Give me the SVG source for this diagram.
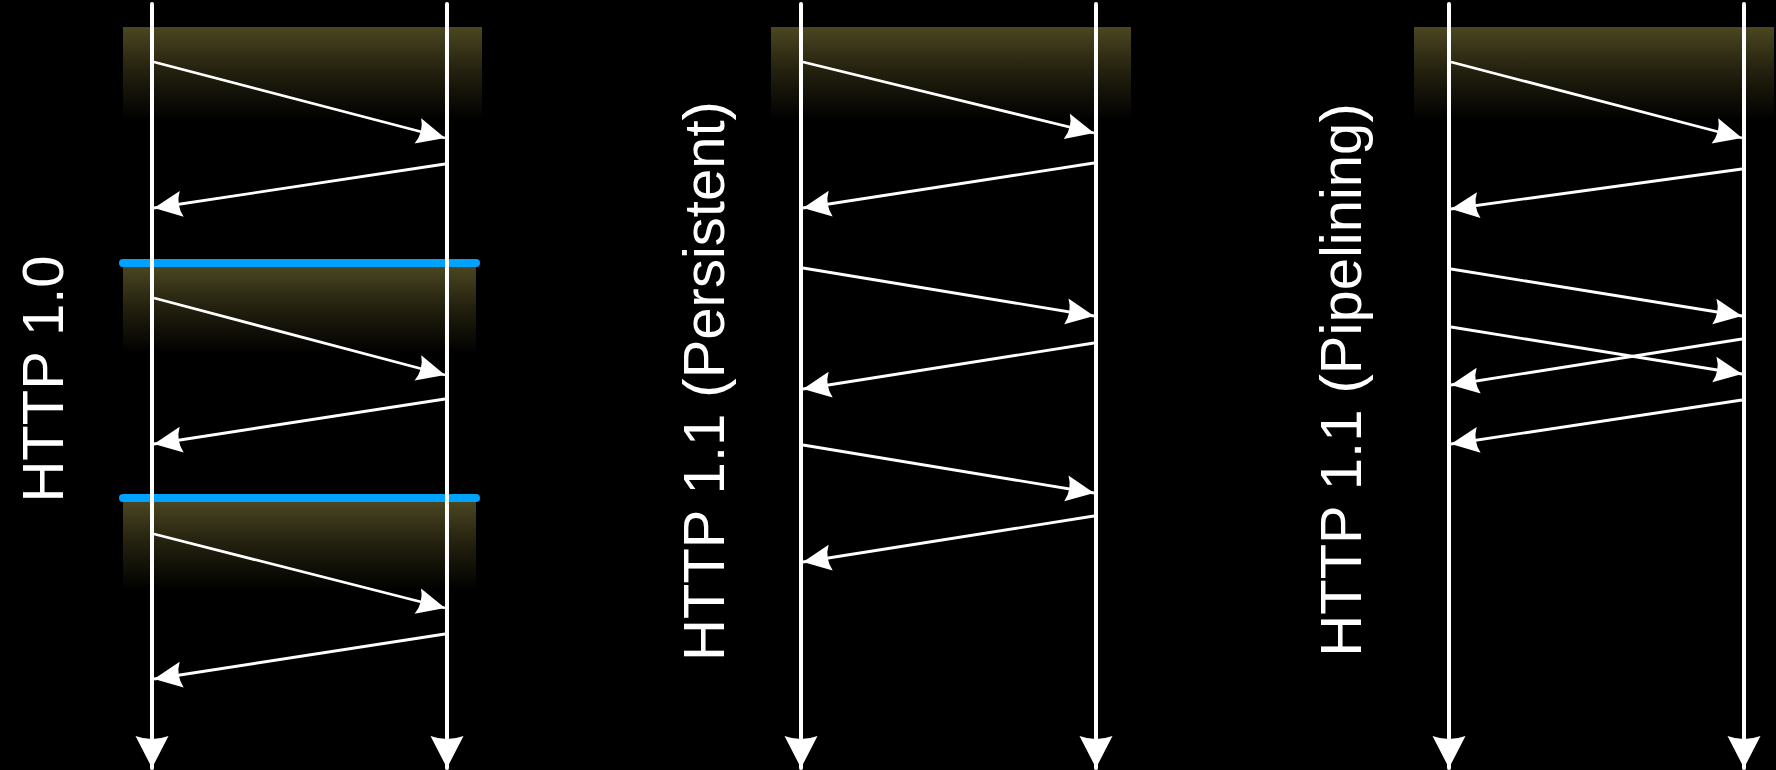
<svg xmlns="http://www.w3.org/2000/svg" width="1776" height="770" viewBox="0 0 1776 770">
  <defs>
    <linearGradient id="band" x1="0" y1="0" x2="0" y2="1">
      <stop offset="0" stop-color="#4b4722"/>
      <stop offset="0.45" stop-color="#25220f"/>
      <stop offset="1" stop-color="#000000"/>
    </linearGradient>
    <marker id="msg" markerUnits="userSpaceOnUse" viewBox="-30 -14 32 28" refX="0" refY="0" markerWidth="32" markerHeight="28" orient="auto" overflow="visible">
      <path d="M0,0 L-28,-13 Q-22,0 -28,13 Z" fill="#fff"/>
    </marker>
    <marker id="life" markerUnits="userSpaceOnUse" viewBox="-34 -17 36 34" refX="0" refY="0" markerWidth="36" markerHeight="34" orient="auto" overflow="visible">
      <path d="M0,0 L-32,-16.5 Q-26,0 -32,16.5 Z" fill="#fff"/>
    </marker>
  </defs>
  <style>
    .bg { fill: #000; }
    .band { fill: url(#band); }
    .sep { stroke: #00a2ff; stroke-width: 8; stroke-linecap: round; fill: none; }
    .life { stroke: #fff; stroke-width: 4; stroke-linecap: round; fill: none; marker-end: url(#life); }
    .msg { stroke: #fff; stroke-width: 2.8; fill: none; marker-end: url(#msg); }
    .label { fill: #fff; font-family: "Liberation Sans", Arial, sans-serif; font-size: 58px; text-anchor: middle; }
  </style>
  <rect class="bg" x="0" y="0" width="1776" height="770"/>

  <g id="panel-http10">
    <rect class="band" x="123" y="27" width="359" height="93"/>
    <rect class="band" x="123" y="266" width="353" height="87"/>
    <rect class="band" x="123" y="501" width="353" height="89"/>
    <line class="sep" x1="123" y1="263" x2="476" y2="263"/>
    <line class="sep" x1="123" y1="498" x2="476" y2="498"/>
    <line class="life" x1="152" y1="4" x2="152" y2="768"/>
    <line class="life" x1="447" y1="4" x2="447" y2="768"/>
    <text class="label" transform="translate(63,379) rotate(-90)">HTTP 1.0</text>
  </g>

  <g id="panel-http11-persistent">
    <rect class="band" x="771" y="27" width="360" height="93"/>
    <line class="life" x1="801" y1="4" x2="801" y2="768"/>
    <line class="life" x1="1096" y1="4" x2="1096" y2="768"/>
    <text class="label" transform="translate(724,381) rotate(-90)">HTTP 1.1 (Persistent)</text>
  </g>

  <g id="panel-http11-pipelining">
    <rect class="band" x="1414" y="27" width="360" height="93"/>
    <line class="life" x1="1449" y1="4" x2="1449" y2="768"/>
    <line class="life" x1="1744" y1="4" x2="1744" y2="768"/>
    <text class="label" transform="translate(1361,380) rotate(-90)">HTTP 1.1 (Pipelining)</text>
  </g>

  <g id="connectors">
    <line class="msg" x1="154" y1="62" x2="445" y2="138"/>
    <line class="msg" x1="445" y1="164" x2="154" y2="208"/>
    <line class="msg" x1="154" y1="298" x2="445" y2="375"/>
    <line class="msg" x1="445" y1="399" x2="154" y2="444"/>
    <line class="msg" x1="154" y1="534" x2="445" y2="608"/>
    <line class="msg" x1="445" y1="634" x2="154" y2="679"/>

    <line class="msg" x1="803" y1="62" x2="1094" y2="133"/>
    <line class="msg" x1="1094" y1="163" x2="803" y2="208"/>
    <line class="msg" x1="803" y1="268" x2="1094" y2="316"/>
    <line class="msg" x1="1094" y1="343" x2="803" y2="389"/>
    <line class="msg" x1="803" y1="445" x2="1094" y2="493"/>
    <line class="msg" x1="1094" y1="516" x2="803" y2="562"/>

    <line class="msg" x1="1451" y1="62" x2="1742" y2="138"/>
    <line class="msg" x1="1742" y1="169" x2="1451" y2="209"/>
    <line class="msg" x1="1451" y1="269" x2="1742" y2="316"/>
    <line class="msg" x1="1451" y1="327" x2="1742" y2="374"/>
    <line class="msg" x1="1742" y1="339" x2="1451" y2="385"/>
    <line class="msg" x1="1742" y1="400" x2="1451" y2="444"/>
  </g>
</svg>
